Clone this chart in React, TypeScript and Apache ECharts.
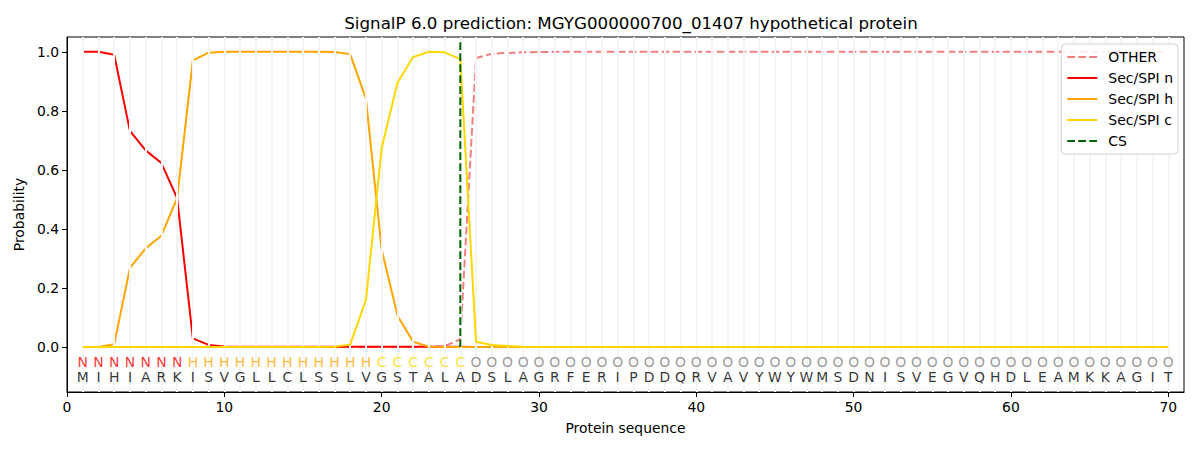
import React, { useEffect, useRef } from "react";
import * as echarts from "echarts";

const SEQUENCE = "MIHIARKISVGLLCLSSLVGSTALADSLAGRFERIPDDQRVAVYWYWMSDNISVEGVQHDLEAMKKAGIT".split("");
const CLASS_LABELS = "NNNNNNNHHHHHHHHHHHHCCCCCCOOOOOOOOOOOOOOOOOOOOOOOOOOOOOOOOOOOOOOOOOOOOO".split("");
const POSITIONS = SEQUENCE.map((_, i) => i + 1);

const OTHER = [
  0, 0, 0, 0, 0, 0, 0, 0, 0, 0,
  0, 0, 0, 0, 0, 0, 0, 0, 0, 0,
  0, 0, 0.001, 0.003, 0.026, 0.979, 0.993, 0.996, 0.998, 0.999,
  1, 1, 1, 1, 1, 1, 1, 1, 1, 1,
  1, 1, 1, 1, 1, 1, 1, 1, 1, 1,
  1, 1, 1, 1, 1, 1, 1, 1, 1, 1,
  1, 1, 1, 1, 1, 1, 1, 1, 1, 1,
];
const SEC_N = [
  1.0, 1.0, 0.99, 0.732, 0.666, 0.623, 0.504, 0.029, 0.007, 0.002,
  0.001, 0.001, 0.001, 0.001, 0.001, 0.001, 0.001, 0.001, 0.001, 0.001,
  0.001, 0.001, 0.001, 0.001, 0.0005, 0, 0, 0, 0, 0,
  0, 0, 0, 0, 0, 0, 0, 0, 0, 0,
  0, 0, 0, 0, 0, 0, 0, 0, 0, 0,
  0, 0, 0, 0, 0, 0, 0, 0, 0, 0,
  0, 0, 0, 0, 0, 0, 0, 0, 0, 0,
];
const SEC_H = [
  0, 0, 0.009, 0.268, 0.334, 0.377, 0.504, 0.971, 0.997, 1.0,
  1.0, 1.0, 1.0, 1.0, 1.0, 1.0, 0.999, 0.992, 0.841, 0.331,
  0.107, 0.018, 0.001, 0, 0, 0, 0, 0, 0, 0,
  0, 0, 0, 0, 0, 0, 0, 0, 0, 0,
  0, 0, 0, 0, 0, 0, 0, 0, 0, 0,
  0, 0, 0, 0, 0, 0, 0, 0, 0, 0,
  0, 0, 0, 0, 0, 0, 0, 0, 0, 0,
];
const SEC_C = [
  0, 0, 0, 0, 0, 0, 0, 0, 0, 0,
  0, 0, 0, 0, 0, 0, 0.001, 0.008, 0.159, 0.673,
  0.894, 0.982, 1.0, 0.998, 0.975, 0.018, 0.007, 0.003, 0.001, 0,
  0, 0, 0, 0, 0, 0, 0, 0, 0, 0,
  0, 0, 0, 0, 0, 0, 0, 0, 0, 0,
  0, 0, 0, 0, 0, 0, 0, 0, 0, 0,
  0, 0, 0, 0, 0, 0, 0, 0, 0, 0,
];
const CS_POSITION = 25;
const CS_TOP = 1.04;
const X_TICKS = [0, 10, 20, 30, 40, 50, 60, 70];
const Y_TICKS = [0, 0.2, 0.4, 0.6, 0.8, 1.0];

const CLASS_COLORS: Record<string, string> = {
  N: "#ff0000",
  H: "#ffa500",
  C: "#ffd700",
  O: "#808080",
};

const FONT = "DejaVu Sans";

export default function App() {
  const ref = useRef<HTMLDivElement>(null);
  useEffect(() => {
    document.body.style.margin = "0";
    if (!ref.current) return;
    const chart = echarts.init(ref.current, undefined, { renderer: "svg" });
    const dash = [7.7, 3.3];
    const mk = (vals: number[]) => POSITIONS.map((p, i) => [p, vals[i]]);
    chart.setOption({
      animation: false,
      backgroundColor: "#ffffff",
      title: {
        text: "SignalP 6.0 prediction: MGYG000000700_01407 hypothetical protein",
        left: 626,
        textAlign: "center",
        top: 9,
        textStyle: { fontFamily: FONT, fontSize: 16.7, fontWeight: "normal", color: "#000" },
      },
      grid: {
        left: 67,
        right: 16,
        top: 37,
        bottom: 58,
        show: true,
        borderColor: "#000",
        borderWidth: 1,
        backgroundColor: "transparent",
      },
      legend: {
        data: ["OTHER", "Sec/SPI n", "Sec/SPI h", "Sec/SPI c", "CS"],
        orient: "vertical",
        right: 22,
        top: 44,
        z: 20,
        itemWidth: 30,
        itemHeight: 14,
        itemGap: 7,
        padding: [6, 5, 6, 5],
        borderColor: "#d0d0d0",
        borderWidth: 1,
        borderRadius: 4,
        backgroundColor: "rgba(255,255,255,0.85)",
        itemStyle: { opacity: 0 },
        textStyle: { fontFamily: FONT, fontSize: 14, color: "#000", padding: [0, 0, 0, 6] },
      },
      xAxis: {
        type: "value",
        min: 0,
        max: 71,
        interval: 10,
        name: "Protein sequence",
        nameLocation: "middle",
        nameGap: 29,
        nameTextStyle: { fontFamily: FONT, fontSize: 13.9, color: "#000" },
        axisLine: { show: true, onZero: false, lineStyle: { color: "#000", width: 1 } },
        axisTick: { show: true, length: 5, lineStyle: { color: "#000" }, customValues: X_TICKS },
        axisLabel: {
          fontFamily: FONT,
          fontSize: 13.9,
          color: "#000",
          margin: 8,
          customValues: X_TICKS,
          formatter: (v: number) => String(v),
        },
        splitLine: { show: false },
      },
      yAxis: {
        type: "value",
        min: -0.1525,
        max: 1.05,
        name: "Probability",
        nameLocation: "middle",
        nameGap: 37,
        nameTextStyle: { fontFamily: FONT, fontSize: 13.9, color: "#000" },
        axisLine: { show: true, onZero: false, lineStyle: { color: "#000", width: 1 } },
        axisTick: { show: true, length: 5, lineStyle: { color: "#000" }, customValues: Y_TICKS },
        axisLabel: {
          fontFamily: FONT,
          fontSize: 13.9,
          color: "#000",
          margin: 8,
          customValues: Y_TICKS,
          formatter: (v: number) => v.toFixed(1),
        },
        splitLine: { show: false },
      },
      series: [
        {
          name: "grid-lines",
          type: "line",
          data: [],
          silent: true,
          z: 0,
          markLine: {
            silent: true,
            symbol: ["none", "none"],
            label: { show: false },
            animation: false,
            emphasis: { disabled: true },
            lineStyle: { color: "#f5f5f5", width: 2, type: "solid", opacity: 1 },
            data: POSITIONS.map((p) => ({ xAxis: p })),
          },
        },
        {
          name: "OTHER",
          type: "line",
          data: mk(OTHER),
          showSymbol: false,
          symbol: "none",
          color: "#f08080",
          lineStyle: { color: "#f08080", width: 2, type: dash },
          z: 2,
        },
        {
          name: "Sec/SPI n",
          type: "line",
          data: mk(SEC_N),
          showSymbol: false,
          symbol: "none",
          color: "#ff0000",
          lineStyle: { color: "#ff0000", width: 2 },
          z: 3,
        },
        {
          name: "Sec/SPI h",
          type: "line",
          data: mk(SEC_H),
          showSymbol: false,
          symbol: "none",
          color: "#ffa500",
          lineStyle: { color: "#ffa500", width: 2 },
          z: 4,
        },
        {
          name: "Sec/SPI c",
          type: "line",
          data: mk(SEC_C),
          showSymbol: false,
          symbol: "none",
          color: "#ffd700",
          lineStyle: { color: "#ffd700", width: 2 },
          z: 5,
        },
        {
          name: "CS",
          type: "line",
          data: [
            [CS_POSITION, 0],
            [CS_POSITION, CS_TOP],
          ],
          showSymbol: false,
          symbol: "none",
          color: "#006400",
          lineStyle: { color: "#006400", width: 2, type: dash },
          z: 6,
        },
        {
          name: "class-labels",
          type: "scatter",
          silent: true,
          symbolSize: 1,
          itemStyle: { color: "rgba(0,0,0,0)" },
          z: 7,
          data: POSITIONS.map((p, i) => ({
            name: CLASS_LABELS[i],
            value: [p, -0.05],
            label: { color: CLASS_COLORS[CLASS_LABELS[i]] },
          })),
          label: {
            show: true,
            position: "inside",
            formatter: "{b}",
            fontFamily: FONT,
            fontSize: 13.9,
          },
        },
        {
          name: "aa-labels",
          type: "scatter",
          silent: true,
          symbolSize: 1,
          itemStyle: { color: "rgba(0,0,0,0)" },
          z: 7,
          data: POSITIONS.map((p, i) => ({ name: SEQUENCE[i], value: [p, -0.1] })),
          label: {
            show: true,
            position: "inside",
            formatter: "{b}",
            fontFamily: FONT,
            fontSize: 13.9,
            color: "#000",
          },
        },
      ],
    });
    return () => chart.dispose();
  }, []);
  return <div ref={ref} style={{ width: 1200, height: 450 }} />;
}
